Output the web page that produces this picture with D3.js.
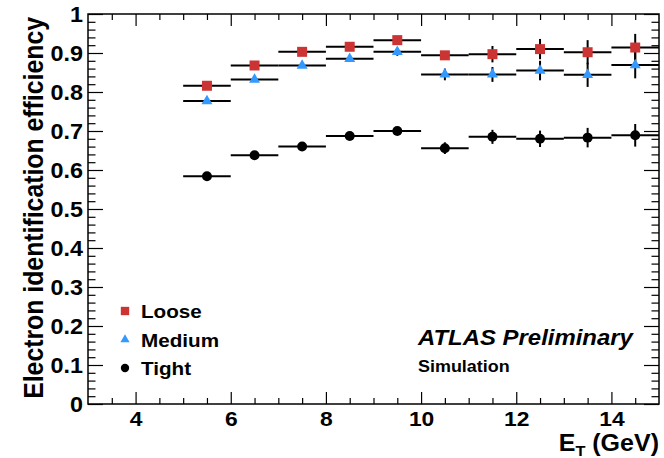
<!DOCTYPE html>
<html>
<head>
<meta charset="utf-8">
<script src="https://cdn.jsdelivr.net/npm/d3@7"></script>
<style>
  html, body { margin: 0; padding: 0; background: #fff; }
  svg { display: block; }
  text { font-family: "Liberation Sans", Arial, Helvetica, sans-serif; font-weight: bold; fill: #000; }
</style>
</head>
<body>
<svg id="chart" width="664" height="458"></svg>
<script>
// Bin centres in E_T (GeV); every bin is 1 GeV wide
const binCentres = [5.5, 6.5, 7.5, 8.5, 9.5, 10.5, 11.5, 12.5, 13.5, 14.5];
const binHalfWidth = 0.5;

// Efficiency per bin and its statistical uncertainty
const looseEff  = [0.816, 0.868, 0.903, 0.916, 0.933, 0.894, 0.897, 0.910, 0.902, 0.914];
const looseErr  = [0.004, 0.004, 0.005, 0.006, 0.008, 0.011, 0.021, 0.026, 0.031, 0.035];
const mediumEff = [0.777, 0.832, 0.868, 0.885, 0.903, 0.845, 0.845, 0.855, 0.844, 0.869];
const mediumErr = [0.004, 0.005, 0.006, 0.007, 0.010, 0.015, 0.019, 0.025, 0.031, 0.034];
const tightEff  = [0.584, 0.638, 0.660, 0.687, 0.700, 0.656, 0.685, 0.680, 0.683, 0.689];
const tightErr  = [0.004, 0.005, 0.006, 0.007, 0.009, 0.015, 0.018, 0.021, 0.025, 0.029];

const seriesNames = ["Loose", "Medium", "Tight"];
const xTickValues = [4, 6, 8, 10, 12, 14];
const yTickValues = [0, 0.1, 0.2, 0.3, 0.4, 0.5, 0.6, 0.7, 0.8, 0.9, 1];

const svg = d3.select("#chart");
const W = 664, H = 458;
const frame = { left: 88, right: 659, top: 14, bottom: 404 };
// The canvas is wider than tall relative to its original aspect, so glyphs are a bit wide
const stretch = 1.088;

const x = d3.scaleLinear().domain([3, 15]).range([frame.left, frame.right]);
const y = d3.scaleLinear().domain([0, 1]).range([frame.bottom, frame.top]);

svg.append("rect").attr("width", W).attr("height", H).attr("fill", "#fff");

// ROOT-style ticks on all four sides
const xMinor = d3.range(3.5, 15, 0.5).filter(v => !xTickValues.includes(v));
const yMinor = d3.range(0, 1.0001, 0.02).map(v => +v.toFixed(2)).filter(v => !yTickValues.some(t => Math.abs(t - v) < 1e-6));

function addAxis(axis, transform) {
  const g = svg.append("g").attr("transform", transform).call(axis);
  g.select(".domain").remove();
  g.selectAll("line").attr("stroke", "#000").attr("stroke-width", 1.2);
  return g;
}

// Bottom: major with labels
const gxb = addAxis(d3.axisBottom(x).tickValues(xTickValues).tickSizeInner(-12).tickSizeOuter(0).tickFormat(d3.format("d")),
  `translate(0,${frame.bottom})`);
gxb.selectAll("text").attr("font-size", 21).attr("dy", null).attr("y", 22)
  .attr("transform", `scale(${stretch},1)`);
addAxis(d3.axisBottom(x).tickValues(xMinor).tickSizeInner(-6).tickSizeOuter(0).tickFormat(""), `translate(0,${frame.bottom})`);
// Top
addAxis(d3.axisTop(x).tickValues(xTickValues).tickSizeInner(-12).tickSizeOuter(0).tickFormat(""), `translate(0,${frame.top})`);
addAxis(d3.axisTop(x).tickValues(xMinor).tickSizeInner(-6).tickSizeOuter(0).tickFormat(""), `translate(0,${frame.top})`);
// Left: major with labels
const gyl = addAxis(d3.axisLeft(y).tickValues(yTickValues).tickSizeInner(-15).tickSizeOuter(0).tickFormat(d => d === 0 ? "0" : d === 1 ? "1" : d3.format(".1f")(d)),
  `translate(${frame.left},0)`);
gyl.selectAll("text").attr("font-size", 21.5).attr("x", -5 / stretch).attr("dy", "0.36em")
  .attr("transform", `scale(${stretch},1)`);
addAxis(d3.axisLeft(y).tickValues(yMinor).tickSizeInner(-7.5).tickSizeOuter(0).tickFormat(""), `translate(${frame.left},0)`);
// Right
addAxis(d3.axisRight(y).tickValues(yTickValues).tickSizeInner(-15).tickSizeOuter(0).tickFormat(""), `translate(${frame.right},0)`);
addAxis(d3.axisRight(y).tickValues(yMinor).tickSizeInner(-7.5).tickSizeOuter(0).tickFormat(""), `translate(${frame.right},0)`);

// Frame
svg.append("rect")
  .attr("x", frame.left).attr("y", frame.top)
  .attr("width", frame.right - frame.left).attr("height", frame.bottom - frame.top)
  .attr("fill", "none").attr("stroke", "#000").attr("stroke-width", 1.5);

// Axis titles
svg.append("text")
  .attr("transform", `translate(43,${frame.top + 3}) rotate(-90) scale(${1 / stretch},1)`)
  .attr("text-anchor", "end")
  .attr("font-size", 27)
  .text("Electron identification efficiency");

const xt = svg.append("text")
  .attr("transform", `translate(${frame.right},451) scale(${stretch},1)`)
  .attr("text-anchor", "end")
  .attr("font-size", 23);
xt.append("tspan").text("E");
xt.append("tspan").attr("font-size", 15).attr("dy", 5).text("T");
xt.append("tspan").attr("dy", -5).text(" (GeV)");

// Markers
const colours = { Loose: "#cc3333", Medium: "#3399ff", Tight: "#000000" };
const symbols = { Loose: d3.symbolSquare, Medium: d3.symbolTriangle, Tight: d3.symbolCircle };
const symbolSizes = { Loose: 100, Medium: 52, Tight: 78 };

const series = [
  { name: "Loose",  eff: looseEff,  err: looseErr },
  { name: "Medium", eff: mediumEff, err: mediumErr },
  { name: "Tight",  eff: tightEff,  err: tightErr }
];

const plot = svg.append("g");
series.forEach(s => {
  const pts = binCentres.map((c, i) => ({ c, v: s.eff[i], e: s.err[i] }));
  const g = plot.append("g");
  // horizontal bin-width bars
  g.selectAll("line.h").data(pts).join("line")
    .attr("x1", d => x(d.c - binHalfWidth)).attr("x2", d => x(d.c + binHalfWidth))
    .attr("y1", d => y(d.v)).attr("y2", d => y(d.v))
    .attr("stroke", "#000").attr("stroke-width", 2);
  // vertical uncertainty bars
  g.selectAll("line.v").data(pts).join("line")
    .attr("x1", d => x(d.c)).attr("x2", d => x(d.c))
    .attr("y1", d => y(d.v - d.e)).attr("y2", d => y(d.v + d.e))
    .attr("stroke", "#000").attr("stroke-width", 2);
});
series.forEach(s => {
  const pts = binCentres.map((c, i) => ({ c, v: s.eff[i] }));
  plot.append("g").selectAll("path").data(pts).join("path")
    .attr("transform", d => `translate(${x(d.c)},${y(d.v)})`)
    .attr("d", d3.symbol().type(symbols[s.name]).size(symbolSizes[s.name]))
    .attr("fill", colours[s.name]);
});

// Legend
const legend = svg.append("g");
seriesNames.forEach((n, i) => {
  const cy = 311 + i * 28.5;
  legend.append("path")
    .attr("transform", `translate(125,${cy})`)
    .attr("d", d3.symbol().type(symbols[n]).size(symbolSizes[n] * 0.7))
    .attr("fill", colours[n]);
  legend.append("text")
    .attr("transform", `translate(141,${cy + 7}) scale(${stretch},1)`)
    .attr("font-size", 19)
    .text(n);
});

// Experiment label
svg.append("text")
  .attr("transform", `translate(418,345) scale(${stretch},1)`)
  .attr("font-size", 22).attr("font-style", "italic")
  .text("ATLAS Preliminary");
svg.append("text")
  .attr("transform", `translate(418,372) scale(${stretch},1)`)
  .attr("font-size", 16.5)
  .text("Simulation");
</script>
</body>
</html>
